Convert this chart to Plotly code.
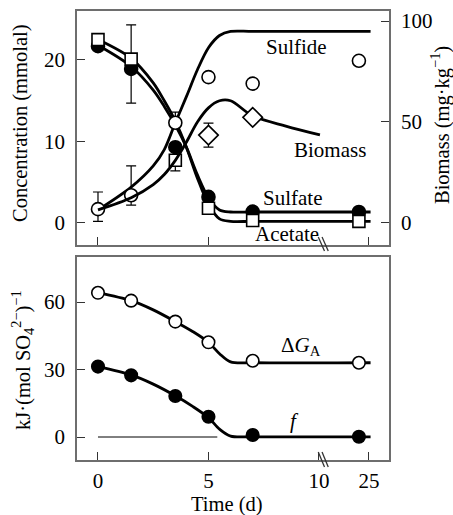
import plotly.graph_objects as go

# ---------------- data ----------------
time_days = [0, 1.5, 3.5, 5, 7, 22]
sulfate = [21.7, 18.9, 9.3, 3.2, 1.4, 1.35]
acetate = [22.5, 20.1, 7.7, 1.8, 0.3, 0.2]
sulfide = [1.7, 3.4, 12.3, 17.9, 17.1, 19.9]
biomass_t = [5, 7]
biomass = [43.5, 52.3]
dG_A = [64.1, 60.6, 51.3, 42.1, 33.9, 33.0]
f_val = [31.3, 27.4, 18.2, 9.0, 0.9, 0.1]

# fitted curves
fit_t = [0, 1.5, 2.5, 3.0, 3.5, 4.0, 4.5, 5.0, 5.5, 6.0, 7.0, 25.5]
sulfide_fit = [1.6, 4.4, 7.0, 9.0, 12.3, 15.5, 18.8, 21.5, 23.0, 23.5, 23.5, 23.5]
acetate_fit = [22.5, 20.2, 17.2, 15.0, 12.5, 9.3, 5.5, 2.3, 0.5, 0.2, 0.2, 0.2]
sulfate_fit = [21.8, 19.2, 16.3, 14.3, 12.0, 9.3, 5.9, 3.1, 1.6, 1.35, 1.35, 1.35]
biomass_fit_t = [0, 1.5, 2.5, 3.0, 3.5, 4.0, 4.5, 5.0, 5.5, 6.0, 7.0, 8.5, 10.3]
biomass_fit = [6.5, 12.5, 19, 24, 31, 40, 50, 57, 60.5, 60.5, 53, 48, 43.6]
g_fit_t = [0, 1.5, 2.5, 3.5, 4.3, 5.0, 5.5, 6.0, 7.0, 25.5]
dG_fit = [64.2, 60.6, 56.5, 51.3, 46.8, 42.1, 37.0, 33.4, 33.0, 33.0]
f_fit = [31.3, 27.6, 23.5, 18.3, 13.5, 8.6, 3.5, 0.4, 0.1, 0.1]
baseline_t = [0, 5.4]
baseline = [0, 0]

# error bars
sulfide_err_idx = [0, 1, 2]
sulfide_err_plus = [2.1, 3.6, 1.3]
sulfide_err_minus = [1.5, 1.2, 0]
sulfate_err_idx = [1]
sulfate_err_plus = [5.4]
sulfate_err_minus = [4.2]
acetate_err_idx = [2]
acetate_err_plus = [0]
acetate_err_minus = [1.3]
biomass_err_plus = [5.9]
biomass_err_minus = [5.9]

x_tick_days = [0, 5, 10, 25]
x_tick_text = ["0", "5", "10", "25"]

# ---------------- broken time axis ----------------
BREAK = 10.0
SCALE_AFTER = 0.1507


def brk(t):
    return t if t <= BREAK else BREAK + (t - BREAK) * SCALE_AFTER


def brks(ts):
    return [brk(t) for t in ts]


W, H = 453, 515
ML, MR, MT, MB = 77, 64, 11, 55
PW = W - ML - MR
PH = H - MT - MB


def py2paper(py):
    return (H - MB - py) / PH


def px2paper(px):
    return (px - ML) / PW


FONT = "Liberation Serif, Times New Roman, Times, serif"
BLACK = "black"
FRAME = "#6e6e6e"

fig = go.Figure()

LW = 2.8


def fit_line(t, v, xa, ya):
    fig.add_trace(go.Scatter(x=brks(t), y=v, mode="lines", xaxis=xa, yaxis=ya,
                             line=dict(color=BLACK, width=LW, shape="spline", smoothing=0.9),
                             showlegend=False, hoverinfo="skip"))


fit_line(fit_t, sulfide_fit, "x2", "y2")
fit_line(fit_t, acetate_fit, "x2", "y2")
fit_line(fit_t, sulfate_fit, "x2", "y2")
fit_line(biomass_fit_t, biomass_fit, "x2", "y3")
fit_line(g_fit_t, dG_fit, "x", "y")
fit_line(g_fit_t, f_fit, "x", "y")
fig.add_trace(go.Scatter(x=brks(baseline_t), y=baseline, mode="lines", xaxis="x", yaxis="y",
                         line=dict(color=BLACK, width=1), showlegend=False))


def err_trace(idx, vals, plus, minus, xa, ya, tt=None):
    ts = tt if tt is not None else [time_days[i] for i in idx]
    ys = vals if tt is not None else [vals[i] for i in idx]
    fig.add_trace(go.Scatter(x=brks(ts), y=ys, mode="markers", xaxis=xa, yaxis=ya,
                             marker=dict(size=1, color="rgba(0,0,0,0)"),
                             error_y=dict(type="data", symmetric=False, array=plus, arrayminus=minus,
                                          color=BLACK, thickness=1.2, width=5),
                             showlegend=False, hoverinfo="skip"))


err_trace(sulfide_err_idx, sulfide, sulfide_err_plus, sulfide_err_minus, "x2", "y2")
err_trace(sulfate_err_idx, sulfate, sulfate_err_plus, sulfate_err_minus, "x2", "y2")
err_trace(acetate_err_idx, acetate, acetate_err_plus, acetate_err_minus, "x2", "y2")
err_trace(None, biomass, biomass_err_plus, biomass_err_minus, "x2", "y3", tt=biomass_t)


def pts(t, v, xa, ya, symbol, size, fill):
    fig.add_trace(go.Scatter(x=brks(t), y=v, mode="markers", xaxis=xa, yaxis=ya,
                             marker=dict(symbol=symbol, size=size, color=fill,
                                         line=dict(color=BLACK, width=1.6)),
                             showlegend=False))


pts(time_days, sulfate, "x2", "y2", "circle", 13, BLACK)
pts(time_days, acetate, "x2", "y2", "square", 12, "white")
pts(time_days, sulfide, "x2", "y2", "circle", 13, "white")
pts(biomass_t, biomass, "x2", "y3", "diamond", 15, "white")
pts(time_days, dG_A, "x", "y", "circle", 12.5, "white")
pts(time_days, f_val, "x", "y", "circle", 12.5, BLACK)

tickfont = dict(family=FONT, size=21, color=BLACK)
x_range = [-0.95, 13.17]
x_tickvals = brks(x_tick_days)

common_axis = dict(showgrid=False, zeroline=False, showline=True, linecolor=FRAME, linewidth=1.5,
                   ticks="inside", ticklen=8, tickwidth=1.3, tickcolor="#333", tickfont=tickfont,
                   automargin=False)

bottom_dom = [0, py2paper(257)]
top_dom = [py2paper(245), 1]

fig.update_layout(
    width=W, height=H, margin=dict(l=ML, r=MR, t=MT, b=MB, autoexpand=False),
    paper_bgcolor="white", plot_bgcolor="white",
    font=dict(family=FONT, size=21, color=BLACK),
    showlegend=False,
    xaxis=dict(common_axis, domain=[0, 1], anchor="y", range=x_range, mirror=True,
               tickvals=x_tickvals, ticktext=x_tick_text, ticklabelstandoff=1),
    yaxis=dict(common_axis, domain=bottom_dom, anchor="x", range=[-10.22, 80.0], mirror=True,
               tickvals=[0, 30, 60], ticklabelstandoff=6),
    xaxis2=dict(common_axis, domain=[0, 1], anchor="y2", range=x_range, mirror=True,
                tickvals=[brk(0), brk(5), brk(25)], showticklabels=False),
    yaxis2=dict(common_axis, domain=top_dom, anchor="x2", range=[-2.70, 26.01], mirror=True,
                tickvals=[0, 10, 20], ticklabelstandoff=6),
    yaxis3=dict(common_axis, overlaying="y2", side="right", anchor="x2", range=[-10.9, 104.95],
                tickvals=[0, 50, 100], ticklabelstandoff=6),
)

# axis break marks
shapes = []
for (y0, y1) in [(452, 467), (237, 251)]:
    for dx in (0.0, 0.17):
        shapes.append(dict(type="line", xref="x", yref="paper",
                           x0=BREAK + dx - 0.03, x1=BREAK + dx + 0.25,
                           y0=py2paper(y0), y1=py2paper(y1),
                           line=dict(color="#333", width=1.3)))
fig.update_layout(shapes=shapes)

ann_font = dict(family=FONT, size=21, color=BLACK)
title_font = dict(family=FONT, size=20.5, color=BLACK)
annotations = [
    dict(text="Sulfide", x=9.0, y=21.6, xref="x2", yref="y2"),
    dict(text="Biomass", x=10.5, y=9.0, xref="x2", yref="y2"),
    dict(text="Sulfate", x=8.8, y=3.1, xref="x2", yref="y2"),
    dict(text="Acetate", x=8.55, y=-1.35, xref="x2", yref="y2"),
    dict(text="Δ<i>G</i><sub>A</sub>", x=9.2, y=40.5, xref="x", yref="y"),
    dict(text="<i>f</i>", x=8.9, y=7.1, xref="x", yref="y"),
]
for a in annotations:
    a.update(showarrow=False, font=ann_font, xanchor="center", yanchor="middle")

annotations += [
    dict(text="Time (d)", x=px2paper(227), y=py2paper(504), xref="paper", yref="paper",
         showarrow=False, font=title_font, xanchor="center", yanchor="middle"),
    dict(text="Concentration (mmolal)", x=px2paper(20), y=py2paper(123), xref="paper", yref="paper",
         showarrow=False, font=title_font, xanchor="center", yanchor="middle", textangle=-90),
    dict(text="Biomass (mg·kg<sup>−1</sup>)", x=px2paper(440), y=py2paper(125), xref="paper",
         yref="paper", showarrow=False, font=title_font, xanchor="center", yanchor="middle",
         textangle=-90),
    dict(text="kJ·(mol SO<sub>4</sub><sup>2−</sup>)<sup>−1</sup>", x=px2paper(22), y=py2paper(360),
         xref="paper", yref="paper", showarrow=False, font=title_font, xanchor="center",
         yanchor="middle", textangle=-90),
]
fig.update_layout(annotations=annotations)

fig.write_html("out.html", config={"displayModeBar": False},
               post_script="document.body.style.margin='0';")
